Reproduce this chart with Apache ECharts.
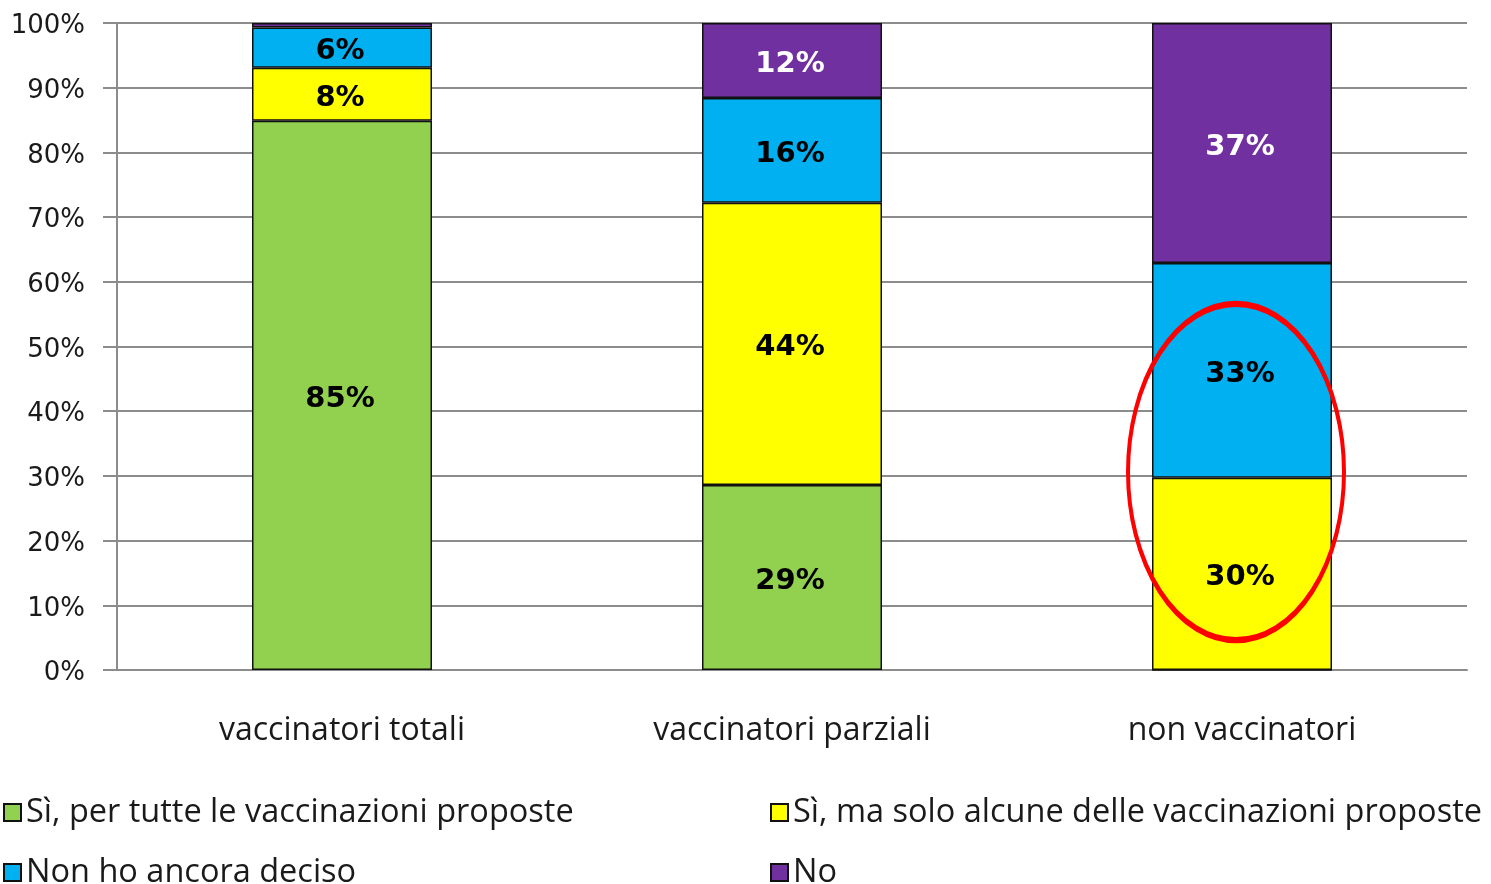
<!DOCTYPE html>
<html>
<head>
<meta charset="utf-8">
<script src="https://cdn.jsdelivr.net/npm/echarts@6/dist/echarts.min.js"></script>
<style>
  html, body { margin: 0; padding: 0; background: #fff; }
  #chart { width: 1491px; height: 884px; }
</style>
</head>
<body>
<div id="chart"></div>
<script>
// categories + stacked shares (percent)
const categories = ['vaccinatori totali', 'vaccinatori parziali', 'non vaccinatori']
const seriesNames = [
  'Sì, per tutte le vaccinazioni proposte',
  'Sì, ma solo alcune delle vaccinazioni proposte',
  'Non ho ancora deciso',
  'No',
]
const siTutte = [84.9, 28.6, 0]
const siAlcune = [8.2, 43.6, 29.7]
const nonDeciso = [6.2, 16.2, 33.2]
const no = [0.7, 11.6, 37.1]
const yTicks = [0, 10, 20, 30, 40, 50, 60, 70, 80, 90, 100]

const colors = ['#92D050', '#FFFF00', '#00B0F0', '#7030A0']
const labelColors = ['#000', '#000', '#000', '#fff']
const values = [siTutte, siAlcune, nonDeciso, no]

const chart = echarts.init(document.getElementById('chart'))

const legendPos = [
  { left: 3, top: 796 },
  { left: 770, top: 796 },
  { left: 3, top: 856 },
  { left: 770, top: 856 },
]

const option = {
  animation: false,
  grid: { left: 117, right: 24, top: 23, bottom: 214 },
  legend: seriesNames.map((n, i) => ({
    data: [n],
    left: legendPos[i].left,
    top: legendPos[i].top,
    padding: 0,
    icon: 'rect',
    itemWidth: 17,
    itemHeight: 17,
    selectedMode: false,
    textStyle: { fontFamily: 'Open Sans', fontSize: 32.5, color: '#1a1a1a' },
  })),
  xAxis: {
    type: 'category',
    data: categories,
    axisLine: { lineStyle: { color: '#8c8c8c', width: 2 } },
    axisTick: { length: 13, lineStyle: { color: '#8c8c8c', width: 2 } },
    axisLabel: { margin: 45, fontFamily: 'Open Sans', fontSize: 32, color: '#1a1a1a' },
  },
  yAxis: {
    type: 'value',
    min: 0,
    max: 100,
    interval: 10,
    axisLine: { show: true, lineStyle: { color: '#8c8c8c', width: 2 } },
    axisTick: { show: true, length: 14, lineStyle: { color: '#8c8c8c', width: 2 } },
    splitLine: { lineStyle: { color: '#8c8c8c', width: 2 } },
    axisLabel: {
      margin: 32,
      formatter: v => (yTicks.includes(v) ? '{t|' + v + '%}' : ''),
      rich: {
        t: {
          fontFamily: 'DejaVu Sans',
          fontSize: 26,
          color: '#1a1a1a',
          padding: [7, 0, 0, 0],
        },
      },
    },
  },
  series: seriesNames.map((n, i) => ({
    name: n,
    type: 'bar',
    stack: 'tot',
    barWidth: 180,
    data: values[i],
    itemStyle: { color: colors[i], borderColor: '#111', borderWidth: 1.5 },
    label: {
      show: true,
      position: 'inside',
      offset: [-2, 4],
      fontFamily: 'DejaVu Sans',
      fontWeight: 'bold',
      fontSize: 29,
      color: labelColors[i],
      formatter: p => (p.value >= 2 ? Math.round(p.value) + '%' : ''),
    },
  })),
}

chart.setOption(option)

// red ellipse annotation around the "non vaccinatori" lower segments
const c = chart.convertToPixel({ xAxisIndex: 0, yAxisIndex: 0 }, ['non vaccinatori', 30.6])
const t = chart.convertToPixel({ xAxisIndex: 0, yAxisIndex: 0 }, ['non vaccinatori', 56.6])
const rx = 108
const ry = c[1] - t[1]
chart.setOption({
  graphic: [{
    type: 'circle',
    x: c[0] - 6,
    y: c[1],
    scaleY: ry / rx,
    shape: { cx: 0, cy: 0, r: rx },
    style: { fill: 'none', stroke: '#ff0000', lineWidth: 4, strokeNoScale: true },
    z: 100,
  }],
})
</script>
</body>
</html>
